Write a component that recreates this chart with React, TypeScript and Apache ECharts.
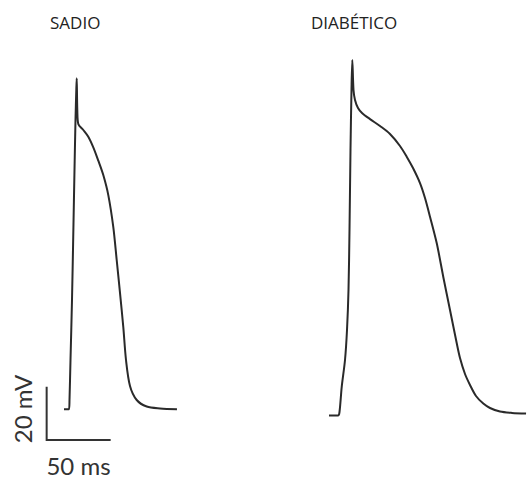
import React, { useEffect, useRef } from "react";
import * as echarts from "echarts";

// Time (ms) and membrane potential (mV) for each trace
const sadioTime = [18.75, 22.66, 23.05, 23.83, 25.0, 26.02, 26.95, 27.73, 28.36, 28.67, 29.14, 29.92, 33.83, 37.73, 41.64, 45.55, 49.45, 53.36, 57.27, 59.92, 62.5, 65.08, 67.19, 70.31, 75.55, 83.36, 93.75, 107.0];
const sadioMv = [-80.2, -80.2, -76.75, -61.75, -39.25, -14.1, 9.5, 28.25, 39.5, 43.9, 32.0, 26.75, 24.5, 22.0, 18.0, 13.0, 7.6, 0.1, -11.9, -24.25, -36.6, -49.4, -61.75, -71.5, -76.75, -79.2, -79.9, -80.2];

const diabTime = [22.66, 29.69, 30.86, 32.58, 35.16, 36.72, 37.89, 38.67, 39.45, 40.23, 40.86, 41.8, 42.97, 45.31, 48.44, 54.69, 62.5, 70.31, 78.13, 83.36, 88.28, 93.75, 97.66, 101.56, 106.8, 111.95, 117.19, 122.42, 125.0, 128.91, 132.81, 137.5, 143.2, 148.44, 156.25, 165.63, 176.6];
const diabMv = [-82.56, -82.56, -81.25, -71.9, -61.75, -50.5, -35.5, -13.0, 17.0, 39.5, 50.75, 39.5, 35.75, 32.75, 30.9, 28.6, 26.0, 23.0, 18.5, 14.5, 10.25, 4.6, -1.0, -8.0, -17.9, -30.6, -43.0, -55.4, -61.0, -67.0, -71.1, -75.25, -78.1, -79.75, -81.1, -81.6, -81.8];

// Scale bar
const scaleBarOrigin = [5.2, -91.75];
const scaleBarMv = 20;
const scaleBarMs = 50;

const titles = ["SADIO", "DIABÉTICO"];
const scaleLabels = ["20 mV", "50 ms"];

const zip = (xs: number[], ys: number[]) => xs.map((x, i) => [x, ys[i]]);

export default function App() {
  const ref = useRef<HTMLDivElement>(null);
  useEffect(() => {
    if (!ref.current) return;
    const chart = echarts.init(ref.current, undefined, { renderer: "svg" });
    const traceColor = "#2a2a2a";
    const yMin = -106;
    const yMax = 73.25;
    chart.setOption({
      animation: false,
      backgroundColor: "#ffffff",
      grid: [
        { left: 40, top: 0, width: 160, height: 478 },
        { left: 300, top: 0, width: 226.56, height: 478 },
      ],
      xAxis: [
        { type: "value", gridIndex: 0, min: 0, max: 125, show: false },
        { type: "value", gridIndex: 1, min: 0, max: 177, show: false },
      ],
      yAxis: [
        { type: "value", gridIndex: 0, min: yMin, max: yMax, show: false },
        { type: "value", gridIndex: 1, min: yMin, max: yMax, show: false },
      ],
      series: [
        {
          name: titles[0],
          type: "line",
          xAxisIndex: 0,
          yAxisIndex: 0,
          data: zip(sadioTime, sadioMv),
          showSymbol: false,
          smooth: 0.3,
          clip: false,
          lineStyle: { color: traceColor, width: 2 },
        },
        {
          name: titles[1],
          type: "line",
          xAxisIndex: 1,
          yAxisIndex: 1,
          data: zip(diabTime, diabMv),
          showSymbol: false,
          smooth: 0.3,
          clip: false,
          lineStyle: { color: traceColor, width: 2 },
        },
        {
          name: "scale",
          type: "line",
          xAxisIndex: 0,
          yAxisIndex: 0,
          data: [
            [scaleBarOrigin[0], scaleBarOrigin[1] + scaleBarMv],
            [scaleBarOrigin[0], scaleBarOrigin[1]],
            [scaleBarOrigin[0] + scaleBarMs, scaleBarOrigin[1]],
          ],
          showSymbol: false,
          clip: false,
          lineStyle: { color: "#333333", width: 2, cap: "butt", join: "miter" },
        },
      ],
      graphic: [
        {
          type: "text",
          left: 50,
          top: 14,
          style: { text: titles[0], font: "17px 'Open Sans'", fill: "#222222" },
        },
        {
          type: "text",
          left: 311,
          top: 14,
          style: { text: titles[1], font: "17px 'Open Sans'", fill: "#222222" },
        },
        {
          type: "text",
          x: 22,
          y: 409,
          rotation: Math.PI / 2,
          style: {
            text: scaleLabels[0],
            font: "24px Lato",
            fill: "#333333",
            align: "center",
            verticalAlign: "middle",
          },
        },
        {
          type: "text",
          x: 78.5,
          y: 465,
          style: {
            text: scaleLabels[1],
            font: "24px Lato",
            fill: "#333333",
            align: "center",
            verticalAlign: "middle",
          },
        },
      ],
    });
    return () => chart.dispose();
  }, []);
  return (
    <div
      ref={ref}
      style={{ position: "fixed", left: 0, top: 0, width: 527, height: 478 }}
    />
  );
}
